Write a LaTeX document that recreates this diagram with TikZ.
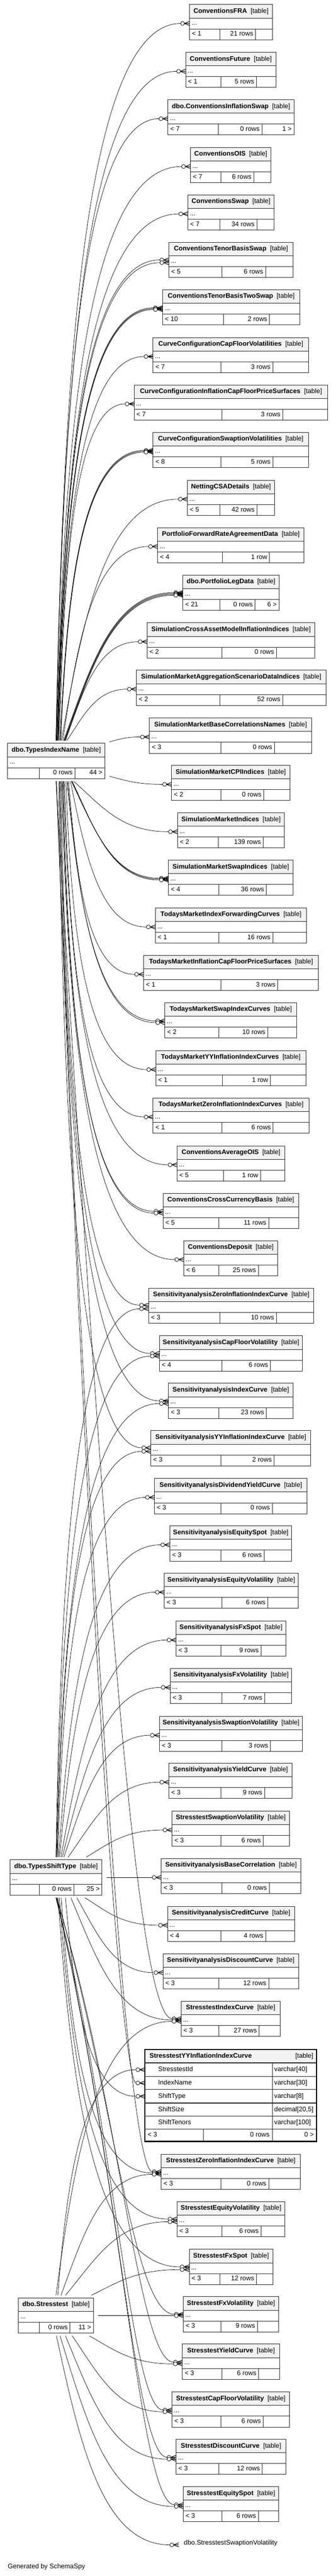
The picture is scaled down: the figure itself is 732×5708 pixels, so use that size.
\documentclass[tikz,border=0pt]{standalone}
\usepackage{fontspec}
\setmainfont{Liberation Sans}
\newcommand\tfont{\fontsize{14.6}{17}\selectfont}
\tikzset{
  boxline/.style={draw=black!85, line width=1.1pt},
  titlefill/.style={fill=black!5},
  txt/.style={font=\tfont, inner sep=0pt, text height=10.5pt, text depth=3pt},
  tblnode/.style={inner sep=0pt, outer sep=0pt, minimum height=78pt},
  fkline/.style={draw=black, line width=0.8pt},
  fkcirc/.style={draw=black, fill=white, line width=0.9pt},
  crowline/.style={draw=black, line width=1.2pt},
}
\def\fkautoword{auto}
\def\fkparse#1/#2/#3\relax{\def\fka{#1}\def\fkb{#2}\def\fkc{#3}}
% #1 source coordinate, #2 shift "dx,dy", #3 target port, #4 y offset, #5 auto or a/b/c
\newcommand\fk[5]{%
  \path ([shift={(#2)}]#1); \pgfgetlastxy{\fksx}{\fksy}%
  \path ([shift={(0,#4)}]#3); \pgfgetlastxy{\fkex}{\fkey}%
  \def\fktmp{#5}%
  \ifx\fktmp\fkautoword
    \pgfmathsetmacro\fkr{abs(\fkey-\fksy)/max(abs(\fkex-\fksx),1)}%
    \pgfmathsetmacro\fkw{min(max((\fkr-0.7)/3,0),1)}%
    \pgfmathsetmacro\fka{0.3-0.24*\fkw}%
    \pgfmathsetmacro\fkb{0.5+0.05*\fkw}%
    \pgfmathsetmacro\fkc{0.5+0.25*\fkw}%
  \else
    \fkparse#5\relax
  \fi
  \pgfmathsetmacro\fkax{\fksx+\fka*(\fkex-\fksx)}%
  \pgfmathsetmacro\fkay{\fksy+\fkb*(\fkey-\fksy)}%
  \pgfmathsetmacro\fkbx{\fkex-\fkc*(\fkex-\fksx)}%
  \draw[fkline] ([shift={(#2)}]#1) .. controls (\fkax pt,\fkay pt) and (\fkbx pt,\fkey) .. ([shift={(0,#4)}]#3);
  \draw[crowline] ([shift={(20,{#4-4.5})}]#3) -- ([shift={(8,#4)}]#3) -- ([shift={(20,{#4+4.5})}]#3);
  \draw[crowline] ([shift={(8,#4)}]#3) -- ([shift={(20,#4)}]#3);
  \draw[fkcirc] ([shift={(4.3,#4)}]#3) circle[radius=4.3pt];
}
% #1 id, #2 left, #3 top, #4 right, #5 split1, #6 split2, #7 title, #8 left text, #9 rows
\newcommand\mytbl[9]{%
  \pgfmathsetmacro\tblw{#4-#2}%
  \node[tblnode, minimum width=\tblw pt, anchor=north west] (#1) at (#2,#3) {};
  \fill[titlefill] (#2,#3) rectangle (#4,{#3+30});
  \draw[boxline] (#2,{#3+30}) -- (#4,{#3+30});
  \draw[boxline] (#2,{#3+54}) -- (#4,{#3+54});
  \draw[boxline] (#5,{#3+54}) -- (#5,{#3+78});
  \draw[boxline] (#6,{#3+54}) -- (#6,{#3+78});
  \draw[boxline] (#1.north west) rectangle (#1.south east);
  \node[txt] (#1-title) at ({(#2+#4)/2},{#3+15}) {\textbf{#7}\hspace{8pt}[table]};
  \node[txt, anchor=west] (#1-dots) at ({#2+4},{#3+42}) {...};
  \node[txt, anchor=west] (#1-in) at ({#2+5},{#3+66}) {#8};
  \node[txt, anchor=east] (#1-rows) at ({#6-5},{#3+66}) {#9};
  \coordinate (#1-p) at ({#2-20},{#3+42});
}
\begin{document}
\begin{tikzpicture}[x=1pt,y=-1pt]
\useasboundingbox (0,0) rectangle (732,5708);
\fill[white] (0,0) rectangle (732,5708);

% ---------- tables ----------
\mytbl{t1}{420}{10}{603}{487}{566}{ConventionsFRA}{< 1}{21 rows}
\mytbl{t2}{411}{116}{611}{489}{568}{ConventionsFuture}{< 1}{5 rows}
\mytbl{t3}{372}{221}{651}{484}{580}{dbo.ConventionsInflationSwap}{< 7}{0 rows}
\node[txt, anchor=east] (t3-out) at (646,287) {1 >};
\mytbl{t4}{422}{327}{600}{489}{562}{ConventionsOIS}{< 7}{6 rows}
\mytbl{t5}{416}{432}{607}{487}{569}{ConventionsSwap}{< 7}{34 rows}
\mytbl{t6}{374}{537}{649}{491}{588}{ConventionsTenorBasisSwap}{< 5}{6 rows}
\mytbl{t7}{360}{642}{664}{495}{597}{ConventionsTenorBasisTwoSwap}{< 10}{2 rows}
\mytbl{t8}{339}{748}{683}{489}{604}{CurveConfigurationCapFloorVolatilities}{< 7}{3 rows}
\mytbl{t9}{297}{853}{726}{491}{626}{CurveConfigurationInflationCapFloorPriceSurfaces}{< 7}{3 rows}
\mytbl{t10}{339}{958}{683}{489}{604}{CurveConfigurationSwaptionVolatilities}{< 8}{5 rows}
\mytbl{t11}{415}{1064}{608}{487}{569}{NettingCSADetails}{< 5}{42 rows}
\mytbl{t12}{349}{1169}{673}{493}{597}{PortfolioForwardRateAgreementData}{< 4}{1 row}
\mytbl{t13}{405}{1274}{618}{487}{565}{dbo.PortfolioLegData}{< 21}{0 rows}
\node[txt, anchor=east] (t13-out) at (613,1340) {6 >};
\mytbl{t14}{326}{1380}{697}{491}{612}{SimulationCrossAssetModelInflationIndices}{< 2}{0 rows}
\mytbl{t15}{302}{1485}{722}{487}{626}{SimulationMarketAggregationScenarioDataIndices}{< 2}{52 rows}
\mytbl{t16}{331}{1591}{690}{489}{608}{SimulationMarketBaseCorrelationsNames}{< 3}{0 rows}
\mytbl{t17}{380}{1696}{642}{489}{584}{SimulationMarketCPIIndices}{< 2}{0 rows}
\mytbl{t18}{393}{1801}{630}{483}{583}{SimulationMarketIndices}{< 2}{139 rows}
\mytbl{t19}{373}{1906}{649}{485}{590}{SimulationMarketSwapIndices}{< 4}{36 rows}
\mytbl{t20}{344}{2012}{679}{485}{604}{TodaysMarketIndexForwardingCurves}{< 1}{16 rows}
\mytbl{t21}{318}{2117}{705}{489}{615}{TodaysMarketInflationCapFloorPriceSurfaces}{< 1}{3 rows}
\mytbl{t22}{365}{2222}{657}{485}{593}{TodaysMarketSwapIndexCurves}{< 2}{10 rows}
\mytbl{t23}{345}{2328}{677}{493}{599}{TodaysMarketYYInflationIndexCurves}{< 1}{1 row}
\mytbl{t24}{339}{2433}{684}{491}{605}{TodaysMarketZeroInflationIndexCurves}{< 1}{6 rows}
\mytbl{t25}{392}{2539}{631}{495}{577}{ConventionsAverageOIS}{< 5}{1 row}
\mytbl{t26}{361}{2644}{661}{485}{595}{ConventionsCrossCurrencyBasis}{< 5}{11 rows}
\mytbl{t27}{407}{2749}{615}{485}{572}{ConventionsDeposit}{< 6}{25 rows}
\mytbl{t28}{329}{2854}{695}{487}{612}{SensitivityanalysisZeroInflationIndexCurve}{< 3}{10 rows}
\mytbl{t29}{353}{2960}{670}{491}{599}{SensitivityanalysisCapFloorVolatility}{< 4}{6 rows}
\mytbl{t30}{373}{3065}{649}{485}{590}{SensitivityanalysisIndexCurve}{< 3}{23 rows}
\mytbl{t31}{334}{3170}{688}{489}{607}{SensitivityanalysisYYInflationIndexCurve}{< 3}{2 rows}
\mytbl{t32}{342}{3276}{680}{489}{603}{SensitivityanalysisDividendYieldCurve}{< 3}{0 rows}
\mytbl{t33}{376}{3381}{646}{489}{585}{SensitivityanalysisEquitySpot}{< 3}{6 rows}
\mytbl{t34}{364}{3486}{660}{491}{593}{SensitivityanalysisEquityVolatility}{< 3}{6 rows}
\mytbl{t35}{390}{3592}{633}{489}{578}{SensitivityanalysisFxSpot}{< 3}{9 rows}
\mytbl{t36}{377}{3697}{646}{491}{586}{SensitivityanalysisFxVolatility}{< 3}{7 rows}
\mytbl{t37}{353}{3803}{670}{491}{599}{SensitivityanalysisSwaptionVolatility}{< 3}{3 rows}
\mytbl{t38}{374}{3907}{647}{489}{586}{SensitivityanalysisYieldCurve}{< 3}{9 rows}
\mytbl{t39}{381}{4013}{641}{489}{583}{StresstestSwaptionVolatility}{< 3}{6 rows}
\mytbl{t40}{357}{4118}{666}{491}{596}{SensitivityanalysisBaseCorrelation}{< 3}{0 rows}
\mytbl{t41}{371}{4224}{652}{489}{588}{SensitivityanalysisCreditCurve}{< 4}{4 rows}
\mytbl{t42}{361}{4329}{661}{485}{595}{SensitivityanalysisDiscountCurve}{< 3}{12 rows}
\mytbl{t43}{401}{4434}{620}{485}{574}{StresstestIndexCurve}{< 3}{27 rows}
\mytbl{t45}{357}{4773}{665}{489}{595}{StresstestZeroInflationIndexCurve}{< 3}{0 rows}
\mytbl{t46}{392}{4878}{631}{491}{578}{StresstestEquityVolatility}{< 3}{6 rows}
\mytbl{t47}{419}{4984}{604}{487}{568}{StresstestFxSpot}{< 3}{12 rows}
\mytbl{t48}{406}{5089}{617}{489}{570}{StresstestFxVolatility}{< 3}{9 rows}
\mytbl{t49}{404}{5194}{619}{491}{573}{StresstestYieldCurve}{< 3}{6 rows}
\mytbl{t50}{381}{5300}{641}{489}{583}{StresstestCapFloorVolatility}{< 3}{6 rows}
\mytbl{t51}{390}{5405}{633}{485}{581}{StresstestDiscountCurve}{< 3}{12 rows}
\mytbl{t52}{406}{5510}{617}{491}{572}{StresstestEquitySpot}{< 3}{6 rows}

% expanded table
\node[inner sep=0pt, outer sep=0pt, minimum width=380pt, minimum height=204pt, anchor=north west] (t44) at (321,4541) {};
\fill[titlefill] (321,4541) rectangle (701,4571);
\foreach \yy in {4571,4601,4630,4660,4689,4718} \draw[boxline, line width=1.4pt] (321,\yy) -- (701,\yy);
\draw[boxline, line width=1.4pt] (603,4571) -- (603,4745);
\draw[boxline, line width=1.4pt] (450,4718) -- (450,4745);
\draw[draw=black, line width=2.4pt] (t44.north west) rectangle (t44.south east);
\node[txt, anchor=west] (t44-title) at (331,4556) {\textbf{StresstestYYInflationIndexCurve}};
\node[txt, anchor=east] (t44-tag) at (694,4556) {[table]};
\node[txt, anchor=west] (t44-c1) at (350,4586) {StresstestId};
\node[txt, anchor=west] (t44-y1) at (607,4586) {varchar[40]};
\node[txt, anchor=west] (t44-c2) at (350,4615.5) {IndexName};
\node[txt, anchor=west] (t44-y2) at (607,4615.5) {varchar[30]};
\node[txt, anchor=west] (t44-c3) at (350,4645) {ShiftType};
\node[txt, anchor=west] (t44-y3) at (607,4645) {varchar[8]};
\node[txt, anchor=west] (t44-c4) at (350,4674.5) {ShiftSize};
\node[txt, anchor=west] (t44-y4) at (607,4674.5) {decimal[20,5]};
\node[txt, anchor=west] (t44-c5) at (350,4703.5) {ShiftTenors};
\node[txt, anchor=west] (t44-y5) at (607,4703.5) {varchar[100]};
\node[txt, anchor=west] (t44-in) at (327,4731.5) {< 3};
\node[txt, anchor=east] (t44-rows) at (597,4731.5) {0 rows};
\node[txt, anchor=east] (t44-out) at (695,4731.5) {0 >};
\coordinate (t44t-p) at (301,4586);
\coordinate (t44i-p) at (301,4615.5);
\coordinate (t44s-p) at (301,4645);

% placeholder table
\node[txt, anchor=west] (t53) at (407,5635) {dbo.StresstestSwaptionVolatility};
\coordinate (t53-p) at (376,5639);

% source tables
\mytbl{A}{17}{1647}{232}{87}{166}{dbo.TypesIndexName}{}{0 rows}
\node[txt, anchor=east] (A-out) at (227,1713) {44 >};
\mytbl{S}{22}{4121}{226}{87}{164}{dbo.TypesShiftType}{}{0 rows}
\node[txt, anchor=east] (S-out) at (221,4187) {25 >};
\mytbl{T}{41}{5092}{207}{87}{155}{dbo.Stresstest}{}{0 rows}
\node[txt, anchor=east] (T-out) at (202,5158) {11 >};

\coordinate (A-top) at ([shift={(-17,-6)}]A.north west);
\coordinate (A-bot) at ([shift={(-17,6)}]A.south west);
\coordinate (A-rt) at ([shift={(10,0)}]A.north east);
\coordinate (S-top) at ([shift={(-22,-6)}]S.north west);
\coordinate (S-bot) at ([shift={(-22,6)}]S.south west);
\coordinate (S-rt) at ([shift={(10,0)}]S.north east);
\coordinate (T-top) at ([shift={(-41,-6)}]T.north west);
\coordinate (T-bot) at ([shift={(-41,6)}]T.south west);
\coordinate (T-rt) at ([shift={(10,0)}]T.north east);

% ---------- edges from dbo.TypesIndexName ----------
\fk{A-top}{124,0}{t1-p}{0}{auto}
\fk{A-top}{124,0}{t2-p}{0}{auto}
\fk{A-top}{124.5,0}{t3-p}{0}{auto}
\fk{A-top}{125,0}{t4-p}{0}{auto}
\fk{A-top}{126,0}{t5-p}{0}{auto}
\fk{A-top}{126.5,0}{t6-p}{-3}{auto}
\fk{A-top}{127.5,0}{t6-p}{3}{auto}
\fk{A-top}{128,0}{t7-p}{-2}{auto}
\fk{A-top}{128.5,0}{t7-p}{0}{auto}
\fk{A-top}{129,0}{t7-p}{2}{auto}
\fk{A-top}{130,0}{t8-p}{0}{auto}
\fk{A-top}{132,0}{t9-p}{0}{auto}
\fk{A-top}{133.5,0}{t10-p}{-2}{auto}
\fk{A-top}{134,0}{t10-p}{0}{auto}
\fk{A-top}{134.5,0}{t10-p}{2}{auto}
\fk{A-top}{136,0}{t11-p}{0}{auto}
\fk{A-top}{139,0}{t12-p}{0}{auto}
\fk{A-top}{141,0}{t13-p}{-3}{auto}
\fk{A-top}{142,0}{t13-p}{-1}{auto}
\fk{A-top}{143,0}{t13-p}{1}{auto}
\fk{A-top}{144,0}{t13-p}{3}{auto}
\fk{A-top}{145,0}{t14-p}{0}{auto}
\fk{A-top}{148,0}{t15-p}{0}{auto}
\fk{A-rt}{0,-3}{t16-p}{0}{auto}
\fk{A-rt}{0,73}{t17-p}{0}{auto}
\fk{A-bot}{163,0}{t18-p}{0}{auto}
\fk{A-bot}{158,0}{t19-p}{-2}{auto}
\fk{A-bot}{159,0}{t19-p}{0}{auto}
\fk{A-bot}{160,0}{t19-p}{2}{auto}
\fk{A-bot}{156,0}{t20-p}{0}{auto}
\fk{A-bot}{152,0}{t21-p}{0}{auto}
\fk{A-bot}{148.5,0}{t22-p}{-2}{auto}
\fk{A-bot}{149.5,0}{t22-p}{2}{auto}
\fk{A-bot}{146,0}{t23-p}{0}{auto}
\fk{A-bot}{143,0}{t24-p}{0}{auto}
\fk{A-bot}{141,0}{t25-p}{0}{auto}
\fk{A-bot}{138.5,0}{t26-p}{-2}{auto}
\fk{A-bot}{139.5,0}{t26-p}{2}{auto}
\fk{A-bot}{136.5,0}{t27-p}{0}{auto}
\fk{A-bot}{135,0}{t28-p}{-4}{auto}
\fk{A-bot}{133,0}{t29-p}{-3}{auto}
\fk{A-bot}{131.5,0}{t30-p}{-3}{auto}
\fk{A-bot}{130,0}{t31-p}{-4}{auto}
\fk{A-bot}{124,0}{t43-p}{-3}{0.42/0.65/0.3}
\fk{A-bot}{125,0}{t44i-p}{0}{0.5/0.8/0.12}
\fk{A-bot}{124.5,0}{t45-p}{-3}{0.45/0.75/0.2}

% ---------- edges from dbo.TypesShiftType ----------
\fk{S-top}{124,0}{t28-p}{4}{auto}
\fk{S-top}{124.5,0}{t29-p}{3}{auto}
\fk{S-top}{125.5,0}{t30-p}{3}{auto}
\fk{S-top}{126.5,0}{t31-p}{4}{auto}
\fk{S-top}{128,0}{t32-p}{0}{auto}
\fk{S-top}{130,0}{t33-p}{0}{auto}
\fk{S-top}{132,0}{t34-p}{0}{auto}
\fk{S-top}{135,0}{t35-p}{0}{auto}
\fk{S-top}{138,0}{t36-p}{0}{auto}
\fk{S-top}{141.5,0}{t37-p}{0}{auto}
\fk{S-top}{151,0}{t38-p}{0}{auto}
\fk{S-top}{191,0}{t39-p}{0}{auto}
\fk{S-rt}{0,39}{t40-p}{0}{auto}
\fk{S-bot}{188,0}{t41-p}{0}{auto}
\fk{S-bot}{170,0}{t42-p}{0}{auto}
\fk{S-bot}{157,0}{t43-p}{0}{auto}
\fk{S-bot}{145,0}{t44s-p}{0}{auto}
\fk{S-bot}{135.5,0}{t45-p}{0}{auto}
\fk{S-bot}{131.5,0}{t46-p}{-3}{auto}
\fk{S-bot}{128.5,0}{t47-p}{-3}{auto}
\fk{S-bot}{126.5,0}{t48-p}{-3}{0.5/0.5/0.35}
\fk{S-bot}{125,0}{t49-p}{-2}{0.55/0.45/0.3}
\fk{S-bot}{124.5,0}{t50-p}{-2}{0.55/0.45/0.3}
\fk{S-bot}{124,0}{t51-p}{-2}{0.55/0.45/0.3}
\fk{S-bot}{124,0}{t52-p}{-2}{0.55/0.45/0.3}

% ---------- edges from dbo.Stresstest ----------
\fk{T-top}{124,0}{t43-p}{3}{auto}
\fk{T-top}{128,0}{t44t-p}{0}{auto}
\fk{T-top}{135,0}{t45-p}{3}{auto}
\fk{T-top}{145,0}{t46-p}{3}{auto}
\fk{T-top}{202,0}{t47-p}{3}{auto}
\fk{T-rt}{0,39}{t48-p}{0}{auto}
\fk{T-bot}{198,0}{t49-p}{2}{auto}
\fk{T-bot}{160,0}{t50-p}{2}{auto}
\fk{T-bot}{145,0}{t51-p}{2}{auto}
\fk{T-bot}{133,0}{t52-p}{2}{auto}
\fk{T-bot}{125,0}{t53-p}{0}{auto}

\node[txt, anchor=west] (gen) at (17,5688) {Generated by SchemaSpy};
\end{tikzpicture}
\end{document}
